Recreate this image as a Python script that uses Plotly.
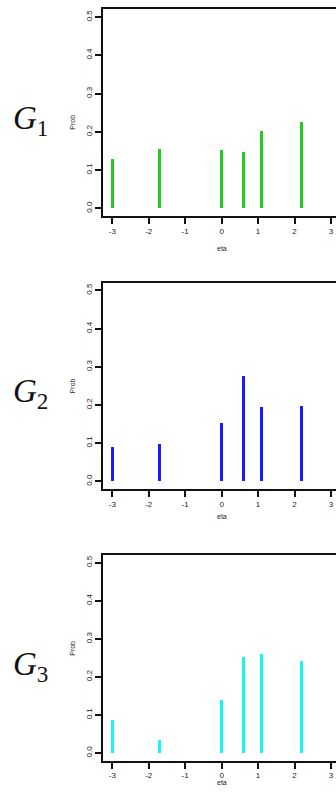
import plotly.graph_objects as go

W, H = 336, 801

eta = [-3.0, -1.7, 0.0, 0.6, 1.1, 2.2]
prob_g1 = [0.130, 0.156, 0.152, 0.147, 0.202, 0.226]
prob_g2 = [0.090, 0.097, 0.153, 0.276, 0.195, 0.197]
prob_g3 = [0.088, 0.034, 0.140, 0.253, 0.259, 0.242]
group_labels = ["<i>G</i><sub>1</sub>", "<i>G</i><sub>2</sub>", "<i>G</i><sub>3</sub>"]
colors = ["#22cc22", "#1a1aff", "#19f5f5"]
x_ticks = [-3, -2, -1, 0, 1, 2, 3]
y_ticks = [0.0, 0.1, 0.2, 0.3, 0.4, 0.5]
y_ticklabels = ["0.0", "0.1", "0.2", "0.3", "0.4", "0.5"]

# panel pixel geometry (top, bottom)
panels = [(9.3, 216.0), (282.7, 489.0), (555.0, 760.7)]
left_px = 103.3

def py(p):
    return 1 - p / H

fig = go.Figure()
series = [prob_g1, prob_g2, prob_g3]
for i, (vals, col) in enumerate(zip(series, colors)):
    n = i + 1
    xa = "x" if n == 1 else f"x{n}"
    ya = "y" if n == 1 else f"y{n}"
    fig.add_trace(go.Bar(x=eta, y=vals, width=0.085, marker=dict(color=col, line=dict(width=0)),
                         xaxis=xa, yaxis=ya, showlegend=False, hoverinfo="skip"))
    top, bot = panels[i]
    xkey = "xaxis" if n == 1 else f"xaxis{n}"
    ykey = "yaxis" if n == 1 else f"yaxis{n}"
    fig.layout[xkey] = dict(domain=[left_px / W, 1], range=[-3.247, 3.139], anchor=ya,
                            showgrid=False, zeroline=False, showline=True, mirror=True,
                            linecolor="#111", linewidth=2, ticks="outside", ticklen=6,
                            tickwidth=2, tickcolor="#111", tickvals=x_ticks,
                            ticktext=[str(t) for t in x_ticks],
                            tickfont=dict(family="Liberation Sans", size=8, color="#222"))
    fig.layout[ykey] = dict(domain=[py(bot), py(top)], range=[-0.02, 0.52], anchor=xa,
                            showgrid=False, zeroline=False, showline=True, mirror=False,
                            linecolor="#111", linewidth=2, ticks="outside", ticklen=6,
                            tickwidth=2, tickcolor="#111", tickvals=y_ticks,
                            ticktext=y_ticklabels, tickangle=-90,
                            tickfont=dict(family="Liberation Sans", size=8, color="#222"))
    mid = (top + bot) / 2
    fig.add_annotation(x=11 / W, y=py(top + 111), xref="paper", yref="paper",
                       xanchor="left", yanchor="middle",
                       text=group_labels[i], showarrow=False,
                       font=dict(family="Liberation Serif", size=33, color="#111"))
    fig.add_annotation(x=67 / W, y=py(mid), xref="paper", yref="paper", text="Prob",
                       textangle=-90, showarrow=False,
                       font=dict(family="Liberation Sans", size=7, color="#222"))
    fig.add_annotation(x=222 / W, y=py(bot + 27), xref="paper", yref="paper", text="eta",
                       showarrow=False,
                       font=dict(family="Liberation Sans", size=7, color="#222"))

fig.update_layout(width=W, height=H, margin=dict(l=0, r=0, t=0, b=0),
                  paper_bgcolor="white", plot_bgcolor="white", bargap=0)
fig.write_html("out.html", config={"displayModeBar": False, "staticPlot": True},
               post_script="document.body.style.margin='0';document.body.style.overflow='hidden';")
